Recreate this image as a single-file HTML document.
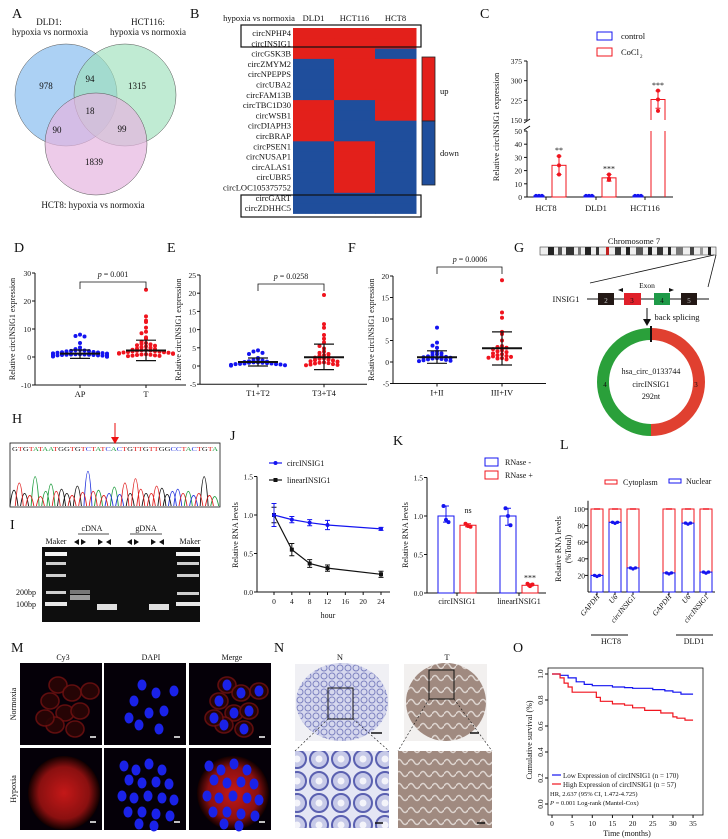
<!DOCTYPE html>
<html><head><meta charset="utf-8">
<style>
html,body{margin:0;padding:0;background:#fff;}
svg{display:block;font-family:"Liberation Serif",serif;}
text{fill:#111;}
</style></head>
<body>
<svg id="fig" width="728" height="839" viewBox="0 0 728 839" xmlns="http://www.w3.org/2000/svg">
<defs>
<radialGradient id="cellred2" cx="50%" cy="50%" r="50%"><stop offset="0" stop-color="#c41818"/><stop offset="0.7" stop-color="#8a1010"/><stop offset="1" stop-color="#100000"/></radialGradient>
<pattern id="glandN" width="8" height="8" patternUnits="userSpaceOnUse"><rect width="8" height="8" fill="#d6d8ee"/><circle cx="4" cy="4" r="3" fill="none" stroke="#7d82c0" stroke-width="1"/></pattern>
<pattern id="glandNbig" width="22" height="22" patternUnits="userSpaceOnUse"><rect width="22" height="22" fill="#e4e6f4"/><circle cx="11" cy="11" r="9" fill="#c7cae8" stroke="#5a60b0" stroke-width="2"/><circle cx="11" cy="11" r="3.5" fill="#f4f4fa"/></pattern>
<pattern id="tumT" width="12" height="12" patternUnits="userSpaceOnUse"><rect width="12" height="12" fill="#a08a80"/><path d="M0 6 Q3 1 6 6 T12 6" stroke="#ddd4cf" stroke-width="1.5" fill="none"/></pattern>
</defs>

<g font-size="9">
<text x="12" y="18" font-size="14">A</text>
<text x="49" y="25" text-anchor="middle">DLD1:</text>
<text x="50" y="35" text-anchor="middle">hypoxia vs normoxia</text>
<text x="148" y="25" text-anchor="middle">HCT116:</text>
<text x="148" y="35" text-anchor="middle">hypoxia vs normoxia</text>
<circle cx="66" cy="95" r="51" fill="#7fb8ee" fill-opacity="0.65" stroke="#555" stroke-width="0.5"/>
<circle cx="125" cy="95" r="51" fill="#9ee0bb" fill-opacity="0.65" stroke="#555" stroke-width="0.5"/>
<circle cx="96" cy="144" r="51" fill="#e6b5e0" fill-opacity="0.7" stroke="#555" stroke-width="0.5"/>
<text x="46" y="89" text-anchor="middle">978</text>
<text x="90" y="82" text-anchor="middle">94</text>
<text x="137" y="89" text-anchor="middle">1315</text>
<text x="90" y="114" text-anchor="middle">18</text>
<text x="57" y="133" text-anchor="middle">90</text>
<text x="122" y="132" text-anchor="middle">99</text>
<text x="94" y="165" text-anchor="middle">1839</text>
<text x="93" y="208" text-anchor="middle">HCT8: hypoxia vs normoxia</text>
</g>

<g id="panelB" font-size="8.5">
<text x="190" y="18" font-size="14">B</text>
<text x="259" y="21" text-anchor="middle">hypoxia vs normoxia</text>
</g>

<g id="panelC" font-size="8.5">
<text x="480" y="18" font-size="14">C</text>
</g>

<g id="panelD" font-size="8.5"><text x="14" y="252" font-size="14">D</text></g>
<g id="panelE" font-size="8.5"><text x="167" y="252" font-size="14">E</text></g>
<g id="panelF" font-size="8.5"><text x="348" y="252" font-size="14">F</text></g>

<g font-size="8.5">
<text x="514" y="252" font-size="14">G</text>
<text x="634" y="244" text-anchor="middle">Chromosome 7</text>
<g>
<rect x="540" y="247" width="176" height="8" fill="#eee" stroke="#444" stroke-width="0.6"/>
<rect x="548" y="247" width="6" height="8" fill="#222"/><rect x="558" y="247" width="4" height="8" fill="#555"/><rect x="566" y="247" width="8" height="8" fill="#333"/><rect x="578" y="247" width="3" height="8" fill="#777"/><rect x="585" y="247" width="6" height="8" fill="#222"/><rect x="596" y="247" width="3" height="8" fill="#333"/>
<rect x="606" y="247" width="3" height="8" fill="#c02020"/>
<rect x="615" y="247" width="6" height="8" fill="#333"/><rect x="626" y="247" width="4" height="8" fill="#222"/><rect x="636" y="247" width="7" height="8" fill="#555"/><rect x="648" y="247" width="4" height="8" fill="#222"/><rect x="657" y="247" width="6" height="8" fill="#333"/><rect x="668" y="247" width="3" height="8" fill="#222"/><rect x="676" y="247" width="7" height="8" fill="#777"/><rect x="690" y="247" width="4" height="8" fill="#444"/><rect x="700" y="247" width="3" height="8" fill="#999"/><rect x="708" y="247" width="3" height="8" fill="#222"/>
</g>
<line x1="714" y1="255" x2="590" y2="283" stroke="#111" stroke-width="0.8"/>
<line x1="716" y1="255" x2="708" y2="287" stroke="#111" stroke-width="0.8"/>
<text x="566" y="302" text-anchor="middle">INSIG1</text>
<line x1="587" y1="299" x2="709" y2="299" stroke="#111" stroke-width="1"/>
<rect x="598" y="293" width="16" height="12" fill="#231815"/>
<rect x="624" y="293" width="17" height="12" fill="#e0202a"/>
<rect x="654" y="293" width="16" height="12" fill="#1f9a48"/>
<rect x="681" y="293" width="16" height="12" fill="#231815"/>
<text x="606" y="303" font-size="7" text-anchor="middle" style="fill:#ccc">2</text>
<text x="632" y="303" font-size="7" text-anchor="middle">3</text>
<text x="662" y="303" font-size="7" text-anchor="middle">4</text>
<text x="689" y="303" font-size="7" text-anchor="middle" style="fill:#ccc">5</text>
<text x="647" y="288" text-anchor="middle" font-size="7.5">Exon</text>
<path d="M623 288 L618 290 L623 292 Z" fill="#111"/>
<path d="M669 288 L674 290 L669 292 Z" fill="#111"/>
<line x1="647" y1="308" x2="647" y2="321" stroke="#111" stroke-width="1"/>
<path d="M643 319 L647 326 L651 319 Z" fill="#111"/>
<text x="677" y="320" text-anchor="middle">back splicing</text>
<path d="M651 334 A48 48 0 0 1 651 430" fill="none" stroke="#e04030" stroke-width="12"/>
<path d="M651 430 A48 48 0 0 1 651 334" fill="none" stroke="#2aa03a" stroke-width="12"/>
<line x1="651" y1="326" x2="651" y2="342" stroke="#111" stroke-width="2"/>
<text x="651" y="374" text-anchor="middle" font-size="8">hsa_circ_0133744</text>
<text x="651" y="387" text-anchor="middle" font-size="8">circINSIG1</text>
<text x="651" y="399" text-anchor="middle" font-size="8">292nt</text>
<text x="605" y="387" text-anchor="middle" font-size="7">4</text>
<text x="696" y="387" text-anchor="middle" font-size="7">3</text>
</g>

<g id="panelH">
<text x="12" y="423" font-size="14">H</text>
<rect x="10" y="443" width="210" height="64" fill="#fff" stroke="#111" stroke-width="0.8"/>
<line x1="115" y1="423" x2="115" y2="440" stroke="#e33" stroke-width="1.2"/>
<path d="M111 437 L115 444 L119 437 Z" fill="#e11"/>
<text id="seqtext" x="12" y="451" font-size="6" textLength="206" lengthAdjust="spacingAndGlyphs"></text>
</g>

<g font-size="8">
<text x="10" y="529" font-size="14">I</text>
<text x="92" y="531" text-anchor="middle">cDNA</text>
<line x1="78" y1="534" x2="109" y2="534" stroke="#111" stroke-width="0.7"/>
<text x="146" y="531" text-anchor="middle">gDNA</text>
<line x1="130" y1="534" x2="162" y2="534" stroke="#111" stroke-width="0.7"/>
<text x="56" y="544" text-anchor="middle">Maker</text>
<text x="190" y="544" text-anchor="middle">Maker</text>
<g fill="#111">
<path d="M74 542 l5 -3 v6z"/><path d="M86 542 l-5 -3 v6z"/><path d="M103 542 l-5 -3 v6z"/><path d="M106 542 l5 -3 v6z"/>
<path d="M127 542 l5 -3 v6z"/><path d="M139 542 l-5 -3 v6z"/><path d="M156 542 l-5 -3 v6z"/><path d="M159 542 l5 -3 v6z"/>
</g>
<rect x="42" y="547" width="158" height="75" fill="#0e0e0e"/>
<g fill="#cfcfcf">
<rect x="45" y="552" width="22" height="4" fill="#f4f4f4"/><rect x="46" y="562" width="20" height="3"/><rect x="46" y="574" width="20" height="3"/><rect x="46" y="591" width="20" height="3"/><rect x="45" y="602" width="22" height="4" fill="#e8e8e8"/>
</g>
<g fill="#cfcfcf">
<rect x="176" y="552" width="24" height="4" fill="#f4f4f4"/><rect x="177" y="562" width="22" height="3"/><rect x="177" y="574" width="22" height="3"/><rect x="177" y="592" width="22" height="3"/><rect x="176" y="602" width="24" height="4" fill="#e8e8e8"/>
</g>
<rect x="70" y="590" width="20" height="4" fill="#777"/>
<rect x="70" y="595" width="20" height="5" fill="#9a9a9a"/>
<rect x="97" y="604" width="20" height="6" fill="#e0e0e0"/>
<rect x="149" y="604" width="20" height="6" fill="#e0e0e0"/>
<text x="26" y="595" text-anchor="middle">200bp</text>
<text x="26" y="607" text-anchor="middle">100bp</text>
</g>

<g id="panelJ" font-size="8"><text x="230" y="440" font-size="14">J</text></g>
<g id="panelK" font-size="8"><text x="393" y="445" font-size="14">K</text></g>
<g id="panelL" font-size="8"><text x="560" y="449" font-size="14">L</text></g>

<g font-size="8">
<text x="11" y="652" font-size="14">M</text>
<text x="63" y="660" text-anchor="middle">Cy3</text>
<text x="151" y="660" text-anchor="middle">DAPI</text>
<text x="232" y="660" text-anchor="middle">Merge</text>
<text transform="translate(16,704) rotate(-90)" text-anchor="middle">Normoxia</text>
<text transform="translate(16,789) rotate(-90)" text-anchor="middle">Hypoxia</text>
<g id="micro"></g>
</g>

<g font-size="8.5">
<text x="274" y="652" font-size="14">N</text>
<text x="340" y="660" text-anchor="middle">N</text>
<text x="447" y="660" text-anchor="middle">T</text>
<rect x="295" y="664" width="94" height="77" fill="#f0f0f4"/>
<ellipse cx="342" cy="702" rx="46" ry="39" fill="url(#glandN)"/>
<rect x="404" y="664" width="83" height="77" fill="#f2f0ef"/>
<ellipse cx="446" cy="702" rx="40" ry="39" fill="url(#tumT)"/>
<rect x="328" y="688" width="25" height="31" fill="none" stroke="#111" stroke-width="1"/>
<rect x="429" y="670" width="25" height="29" fill="none" stroke="#111" stroke-width="1"/>
<line x1="371" y1="733" x2="382" y2="733" stroke="#111" stroke-width="1.5"/>
<line x1="470" y1="733" x2="479" y2="733" stroke="#111" stroke-width="1.5"/>
<line x1="328" y1="719" x2="295" y2="751" stroke="#111" stroke-dasharray="2 2" stroke-width="0.6"/>
<line x1="353" y1="719" x2="389" y2="751" stroke="#111" stroke-dasharray="2 2" stroke-width="0.6"/>
<line x1="429" y1="699" x2="398" y2="751" stroke="#111" stroke-dasharray="2 2" stroke-width="0.6"/>
<line x1="454" y1="699" x2="492" y2="751" stroke="#111" stroke-dasharray="2 2" stroke-width="0.6"/>
<rect x="295" y="751" width="94" height="77" fill="url(#glandNbig)"/>
<rect x="398" y="751" width="94" height="77" fill="url(#tumT)"/>
<line x1="375" y1="823" x2="383" y2="823" stroke="#111" stroke-width="1.5"/>
<line x1="477" y1="823" x2="485" y2="823" stroke="#111" stroke-width="1.5"/>
</g>

<g id="panelO" font-size="8"><text x="513" y="652" font-size="14">O</text></g>
</svg>

<script>
const heatRows = ["circNPHP4","circINSIG1","circGSK3B","circZMYM2","circNPEPPS","circUBA2","circFAM13B","circTBC1D30","circWSB1","circDIAPH3","circBRAP","circPSEN1","circNUSAP1","circALAS1","circUBR5","circLOC105375752","circGART","circZDHHC5"];
const heatCols = ["DLD1","HCT116","HCT8"];
const heatDLD1   = [1,1,1,0,0,0,0,1,1,1,1,0,0,0,0,0,0,0];
const heatHCT116 = [1,1,1,1,1,1,1,0,0,0,0,1,1,1,1,1,0,0];
const heatHCT8   = [1,1,0,1,1,1,1,1,1,0,0,0,0,0,0,0,0,0];

const cGroups = ["HCT8","DLD1","HCT116"];
const cControl = [1,1,1];
const cCoCl2 = [24,14.5,228];
const cCoCl2Pts = [[31,24,17],[17,14,13],[262,228,185]];
const cCoCl2Err = [7,2.5,33];
const cStars = ["**","***","***"];
const cTicksLow = [0,10,20,30,40,50];
const cTicksHigh = [150,225,300,375];

const dCats = ["AP","T"];
const dAP = [8,7.5,7.3,5,3.4,2.8,2.5,2.4,2.3,2.2,2.1,2,1.8,1.7,1.6,1.5,1.4,1.3,1.2,1.2,1.1,1,1,0.9,0.9,0.8,0.8,0.7,0.7,0.6,0.6,0.5,0.5,0.4,0.4,0.3,0.3,0.2,0.2,0.1];
const dT = [24,14.5,13,12.5,10.5,9,8.5,7,6.5,5.5,5,4.7,4.5,4.2,4,3.8,3.5,3.3,3,2.8,2.6,2.5,2.4,2.3,2.2,2.1,2,1.9,1.8,1.7,1.6,1.5,1.4,1.3,1.2,1.1,1,0.9,0.8,0.7,0.6,0.5,0.4,0.3];
const dMean = [1.2,2.3], dLo = [-0.5,-1.3], dHi = [2.5,6];
const dTicks = [-10,0,10,20,30];

const eCats = ["T1+T2","T3+T4"];
const eT12 = [4.3,4,3.6,3.3,2.2,1.8,1.6,1.5,1.3,1.2,1.1,1,1,0.9,0.9,0.8,0.7,0.7,0.6,0.5,0.5,0.4,0.3,0.2,0.1];
const eT34 = [19.5,11.5,10.5,8.5,7.5,6.5,5.5,4.8,4,3.6,3.3,3,2.8,2.5,2.3,2.1,2,1.8,1.6,1.5,1.3,1.2,1,0.9,0.8,0.7,0.5,0.4,0.3,0.2];
const eMean = [1.1,2.4], eLo = [0,-1], eHi = [2.2,6];
const eTicks = [-5,0,5,10,15,20,25];

const fCats = ["I+II","III+IV"];
const fI = [8,4.5,3.8,3.3,2.4,2.2,2,1.8,1.6,1.4,1.3,1.2,1.1,1,0.9,0.8,0.7,0.6,0.5,0.4,0.3,0.2];
const fIII = [19,11.5,10.3,7,6.5,5,3.7,3.5,3.3,3,2.7,2.5,2.3,2,1.8,1.6,1.4,1.3,1.2,1,0.9,0.8,0.6];
const fMean = [1.1,3.2], fLo = [-0.3,-0.7], fHi = [2.6,7];
const fTicks = [-5,0,5,10,15,20];

const jHours = [0,4,8,12,24];
const jCirc = [1.0,0.94,0.9,0.87,0.82];
const jCircErr = [0.15,0.04,0.04,0.06,0.02];
const jLinear = [1.0,0.55,0.37,0.31,0.23];
const jLinErr = [0.1,0.08,0.05,0.04,0.04];
const jXTicks = [0,4,8,12,16,20,24];
const jYTicks = [0.0,0.5,1.0,1.5];

const kCats = ["circINSIG1","linearINSIG1"];
const kMinus = [1.0,1.0];
const kPlus = [0.88,0.1];
const kMinusPts = [[1.13,0.95,0.92],[1.1,1.0,0.88]];
const kPlusPts = [[0.9,0.87,0.86],[0.12,0.09,0.11]];
const kYTicks = [0.0,0.5,1.0,1.5];

const lCats = ["GAPDH","U6","circINSIG1","GAPDH","U6","circINSIG1"];
const lNuclear = [20,84,29,23,83,24];
const lCyto = [100,100,100,100,100,100];
const lYTicks = [20,40,60,80,100];

const oTime = [0,5,10,15,20,25,30,35];
const oLowT = [0,1,2,4,6,8,10,15,18,20,25,28,30,32,35];
const oLowS = [1,1,0.99,0.97,0.94,0.92,0.91,0.9,0.895,0.89,0.88,0.87,0.86,0.845,0.845];
const oHighT = [0,2,3,4,5,10,11,12,15,18,20,23,27,30,31,33,35];
const oHighS = [1,0.97,0.93,0.9,0.86,0.86,0.82,0.79,0.77,0.76,0.74,0.72,0.7,0.67,0.66,0.645,0.645];
const oYTicks = [0.0,0.2,0.4,0.6,0.8,1.0];

const NS = "http://www.w3.org/2000/svg";
function mk(parent, tag, attrs, txt){
  const e = document.createElementNS(NS, tag);
  for (const k in attrs) e.setAttribute(k, attrs[k]);
  if (txt !== undefined) e.textContent = txt;
  parent.appendChild(e);
  return e;
}
const RED = "#f0141e", BLUE = "#1414f0";

(function(){
  const g = document.getElementById("panelB");
  const x0 = 293, cw = 41, y0 = 28, rh = 10.3;
  const xB = i => x0 + i*cw;
  const yB = i => y0 + i*rh;
  const cols = [heatDLD1, heatHCT116, heatHCT8];
  heatCols.forEach((c,j)=>{
    const t = mk(g,"text",{x:xB(j)+cw/2, y:21, "text-anchor":"middle"}, c);
    
    
  });
  heatRows.forEach((r,i)=>{
    const t = mk(g,"text",{x:291, y:yB(i)+8, "text-anchor":"end"}, r);
    
    
    cols.forEach((col,j)=>{
      const c = mk(g,"rect",{x:xB(j), y:yB(i), width:cw+0.5, height:rh+0.5, fill: col[i] ? "#e3201b" : "#1f4e9c"});
      
      
    });
  });
  const b1 = mk(g,"rect",{x:241, y:25, width:180, height:22, fill:"none", stroke:"#111", "stroke-width":1.2});
  
  
  const b2 = mk(g,"rect",{x:241, y:195, width:180, height:22, fill:"none", stroke:"#111", "stroke-width":1.2});
  
  
  const lu = mk(g,"rect",{x:422, y:57, width:13, height:64, fill:"#e3201b", stroke:"#222","stroke-width":0.8});
  
  
  const ld = mk(g,"rect",{x:422, y:121, width:13, height:64, fill:"#1f4e9c", stroke:"#222","stroke-width":0.8});
  
  
  const tu = mk(g,"text",{x:440, y:94}, "up");
  
  
  const td = mk(g,"text",{x:440, y:156}, "down");
  
  
})();

(function(){
  const g = document.getElementById("panelC");
  const yC = v => v <= 50 ? 197 - v*(66/50) : 120 - (v-150)*(59/225);
  const gx = [546,596,645];
  mk(g,"line",{x1:527,y1:131,x2:527,y2:197,stroke:"#111"});
  mk(g,"line",{x1:527,y1:61,x2:527,y2:120,stroke:"#111"});
  mk(g,"line",{x1:524,y1:123,x2:530,y2:119,stroke:"#111"});
  mk(g,"line",{x1:524,y1:130,x2:530,y2:126,stroke:"#111"});
  mk(g,"line",{x1:527,y1:197,x2:673,y2:197,stroke:"#111"});
  cTicksLow.concat(cTicksHigh).forEach(v=>{
    mk(g,"line",{x1:524,y1:yC(v),x2:527,y2:yC(v),stroke:"#111"});
    const t = mk(g,"text",{x:522,y:yC(v)+3,"text-anchor":"end","font-size":7.5}, v);
    
    
  });
  const yl = mk(g,"text",{transform:"translate(499,127) rotate(-90)","text-anchor":"middle"}, "Relative circINSIG1 expression");
  
  
  cGroups.forEach((n,i)=>{
    const t = mk(g,"text",{x:gx[i],y:211,"text-anchor":"middle"}, n);
    
    
    mk(g,"line",{x1:gx[i],y1:197,x2:gx[i],y2:200,stroke:"#111"});
    const cx = gx[i]-7;
    const cb = mk(g,"rect",{x:cx-5,y:yC(cControl[i]),width:10,height:197-yC(cControl[i]),fill:"none",stroke:BLUE,"stroke-width":1});
    
    
    [-3,0,3].forEach(d=>mk(g,"circle",{cx:cx+d,cy:yC(cControl[i]),r:1.8,fill:BLUE}));
    const bx = gx[i]+13;
    const v = cCoCl2[i];
    const top = yC(v);
    if (v > 50) {
      const rb = mk(g,"path",{d:`M${bx-7} 197 V131 M${bx+7} 197 V131 M${bx-7} 120 V${top} H${bx+7} V120`,fill:"none",stroke:RED,"stroke-width":1});
      
      
    } else {
      const rb = mk(g,"rect",{x:bx-7,y:top,width:14,height:197-top,fill:"none",stroke:RED,"stroke-width":1});
      
      
    }
    const e1 = yC(v + cCoCl2Err[i]), e2 = yC(v - cCoCl2Err[i]);
    mk(g,"path",{d:`M${bx} ${e1} V${e2} M${bx-2.5} ${e1} H${bx+2.5} M${bx-2.5} ${e2} H${bx+2.5}`,stroke:RED,fill:"none"});
    cCoCl2Pts[i].forEach(p=>mk(g,"circle",{cx:bx,cy:yC(p),r:2,fill:RED}));
    const st = mk(g,"text",{x:bx,y:e1-3,"text-anchor":"middle","font-size":8}, cStars[i]);
    
    
  });
  const l1 = mk(g,"rect",{x:597,y:32,width:15,height:8,fill:"none",stroke:BLUE,"stroke-width":1});
  
  
  const l1t = mk(g,"text",{x:621,y:39}, "control");
  
  
  const l2 = mk(g,"rect",{x:597,y:48,width:15,height:8,fill:"none",stroke:RED,"stroke-width":1});
  
  
  const l2t = mk(g,"text",{x:621,y:55}, "CoCl");
  
  
  mk(g,"text",{x:640,y:58,"font-size":5},"2");
})();

function scatterPanel(id, axX, axRight, y0v, scale, ticks, cats, catX, groups, means, los, his, pText, pX, brY, yTitleX){
  const g = document.getElementById(id);
  const yS = v => y0v - v*scale;
  const top = yS(ticks[ticks.length-1]), bot = yS(ticks[0]);
  mk(g,"line",{x1:axX,y1:top,x2:axX,y2:bot,stroke:"#111"});
  mk(g,"line",{x1:axX,y1:bot,x2:axRight,y2:bot,stroke:"#111"});
  ticks.forEach(v=>{
    mk(g,"line",{x1:axX-3,y1:yS(v),x2:axX,y2:yS(v),stroke:"#111"});
    const t = mk(g,"text",{x:axX-4,y:yS(v)+3,"text-anchor":"end","font-size":7.5}, v);
    
    
  });
  const yt = mk(g,"text",{transform:`translate(${yTitleX},${(top+bot)/2}) rotate(-90)`,"text-anchor":"middle","font-size":8}, "Relative circINSIG1 expression");
  
  
  cats.forEach((c,i)=>{
    mk(g,"line",{x1:catX[i],y1:bot,x2:catX[i],y2:bot+3,stroke:"#111"});
    const t = mk(g,"text",{x:catX[i],y:bot+12,"text-anchor":"middle"}, c);
    
    
    const col = i===0 ? BLUE : RED;
    const vals = groups[i];
    const counts = {};
    vals.forEach((v,k)=>{
      const key = Math.round(yS(v)/4);
      counts[key] = (counts[key]||0)+1;
      const n = counts[key]-1;
      const off = (n%2===0?1:-1)*Math.ceil(n/2)*4.5;
      const p = mk(g,"circle",{cx:catX[i]+Math.max(-27,Math.min(27,off)),cy:yS(v),r:2,fill:col});
      
      
    });
    const m = mk(g,"line",{x1:catX[i]-20,y1:yS(means[i]),x2:catX[i]+20,y2:yS(means[i]),stroke:"#111","stroke-width":2});
    
    
    mk(g,"path",{d:`M${catX[i]} ${yS(his[i])} V${yS(los[i])} M${catX[i]-10} ${yS(his[i])} H${catX[i]+10} M${catX[i]-10} ${yS(los[i])} H${catX[i]+10}`,stroke:"#111",fill:"none","stroke-width":1.2});
  });
  mk(g,"path",{d:`M${catX[0]} ${brY+7} V${brY} H${catX[1]} V${brY+7}`,stroke:"#111",fill:"none","stroke-width":0.8});
  const pt = mk(g,"text",{x:pX,y:brY-5,"text-anchor":"middle","font-size":8});
  
  
  mk(pt,"tspan",{"font-style":"italic"},"p");
  mk(pt,"tspan",{}," = "+pText);
}
scatterPanel("panelD",35,186,357,2.8,dTicks,dCats,[80,146],[dAP,dT],dMean,dLo,dHi,"0.001",113,282,15);
scatterPanel("panelE",200,367,366,3.64,eTicks,eCats,[258,324],[eT12,eT34],eMean,eLo,eHi,"0.0258",291,284,181);
scatterPanel("panelF",393,546,362,4.3,fTicks,fCats,[437,502],[fI,fIII],fMean,fLo,fHi,"0.0006",470,267,374);

(function(){
  const seq = "GTGTATAATGGTGTCTATCACTGTTGTTGGCCTACTGTA";
  const cmap = {A:"#1a9a3a",C:"#2233dd",G:"#111",T:"#e02020"};
  const st = document.getElementById("seqtext");
  for (const ch of seq) mk(st,"tspan",{style:"fill:"+cmap[ch]}, ch);
  const g = document.getElementById("panelH");
  const peakH = [15,22,12,10,28,9,14,21,14,16,12,10,19,13,33,14,15,10,12,18,11,22,12,26,16,12,12,19,17,11,14,16,12,14,10,12,28,10,9];
  const step = 206/seq.length;
  const d = {};
  for (const ch in cmap) d[ch] = "";
  [...seq].forEach((ch,i)=>{
    const cx = 14 + i*step, h = peakH[i];
    d[ch] += `M${cx-4} 506 Q${cx} ${506-h*2.1} ${cx+4} 506 `;
  });
  for (const ch in d){
    const p = mk(g,"path",{d:d[ch],fill:"none",stroke:cmap[ch],"stroke-width":0.9});
    
    
  }
})();

(function(){
  const g = document.getElementById("panelJ");
  const xJ = h => 274 + h*(107/24);
  const yJ = v => 592 - v*77;
  mk(g,"line",{x1:257,y1:yJ(1.5),x2:257,y2:yJ(0),stroke:"#111"});
  mk(g,"line",{x1:257,y1:yJ(0),x2:390,y2:yJ(0),stroke:"#111"});
  jYTicks.forEach(v=>{
    mk(g,"line",{x1:254,y1:yJ(v),x2:257,y2:yJ(v),stroke:"#111"});
    const t = mk(g,"text",{x:253,y:yJ(v)+3,"text-anchor":"end","font-size":7.5}, v.toFixed(1));
    
    
  });
  jXTicks.forEach(h=>{
    mk(g,"line",{x1:xJ(h),y1:yJ(0),x2:xJ(h),y2:yJ(0)+3,stroke:"#111"});
    const t = mk(g,"text",{x:xJ(h),y:604,"text-anchor":"middle","font-size":7.5}, h);
    
    
  });
  const xt = mk(g,"text",{x:328,y:618,"text-anchor":"middle"}, "hour");
  
  
  const yt = mk(g,"text",{transform:"translate(238,535) rotate(-90)","text-anchor":"middle"}, "Relative RNA levels");
  
  
  [[jLinear,jLinErr,"#111","rect"],[jCirc,jCircErr,BLUE,"circle"]].forEach(([vals,err,col,shape])=>{
    const pts = jHours.map((h,i)=>`${xJ(h)},${yJ(vals[i])}`).join(" ");
    const l = mk(g,"polyline",{points:pts,fill:"none",stroke:col,"stroke-width":1.2});
    
    
    jHours.forEach((h,i)=>{
      const x = xJ(h), y1 = yJ(vals[i]+err[i]), y2 = yJ(vals[i]-err[i]);
      mk(g,"path",{d:`M${x} ${y1} V${y2} M${x-2.5} ${y1} H${x+2.5} M${x-2.5} ${y2} H${x+2.5}`,stroke:col,fill:"none"});
      const m = shape==="circle" ? mk(g,"circle",{cx:x,cy:yJ(vals[i]),r:2,fill:col}) : mk(g,"rect",{x:x-2,y:yJ(vals[i])-2,width:4,height:4,fill:col});
      
      
    });
  });
  mk(g,"line",{x1:269,y1:463,x2:282,y2:463,stroke:BLUE,"stroke-width":1.2});
  mk(g,"circle",{cx:275.5,cy:463,r:2,fill:BLUE});
  const l1 = mk(g,"text",{x:287,y:466}, "circINSIG1");
  
  
  mk(g,"line",{x1:269,y1:480,x2:282,y2:480,stroke:"#111","stroke-width":1.2});
  mk(g,"rect",{x:273.5,y:478,width:4,height:4,fill:"#111"});
  const l2 = mk(g,"text",{x:287,y:483}, "linearINSIG1");
  
  
})();

(function(){
  const g = document.getElementById("panelK");
  const yK = v => 593 - v*77;
  const catX = [457,519];
  mk(g,"line",{x1:427,y1:yK(1.5),x2:427,y2:yK(0),stroke:"#111"});
  mk(g,"line",{x1:427,y1:yK(0),x2:546,y2:yK(0),stroke:"#111"});
  kYTicks.forEach(v=>{
    mk(g,"line",{x1:424,y1:yK(v),x2:427,y2:yK(v),stroke:"#111"});
    const t = mk(g,"text",{x:423,y:yK(v)+3,"text-anchor":"end","font-size":7.5}, v.toFixed(1));
    
    
  });
  const yt = mk(g,"text",{transform:"translate(408,535) rotate(-90)","text-anchor":"middle"}, "Relative RNA levels");
  
  
  kCats.forEach((c,i)=>{
    mk(g,"line",{x1:catX[i],y1:yK(0),x2:catX[i],y2:yK(0)+3,stroke:"#111"});
    const t = mk(g,"text",{x:catX[i],y:604,"text-anchor":"middle"}, c);
    
    
    [[kMinus[i],kMinusPts[i],BLUE,-11],[kPlus[i],kPlusPts[i],RED,11]].forEach(([v,pts,col,dx])=>{
      const x = catX[i]+dx;
      const b = mk(g,"rect",{x:x-8,y:yK(v),width:16,height:yK(0)-yK(v),fill:"none",stroke:col,"stroke-width":1});
      
      
      const mx = Math.max(...pts), mn = Math.min(...pts);
      mk(g,"path",{d:`M${x} ${yK(mx)} V${yK(mn)} M${x-3} ${yK(mx)} H${x+3} M${x-3} ${yK(mn)} H${x+3}`,stroke:col,fill:"none"});
      pts.forEach((p,k)=>mk(g,"circle",{cx:x+(k-1)*2.5,cy:yK(p),r:2,fill:col}));
    });
  });
  const ns = mk(g,"text",{x:468,y:yK(kPlus[0])-12,"text-anchor":"middle"}, "ns");
  
  
  const st = mk(g,"text",{x:530,y:yK(kPlus[1])-5,"text-anchor":"middle"}, "***");
  
  
  const s1 = mk(g,"rect",{x:485,y:458,width:13,height:8,fill:"none",stroke:BLUE,"stroke-width":1});
  
  
  const t1 = mk(g,"text",{x:505,y:465}, "RNase -");
  
  
  const s2 = mk(g,"rect",{x:485,y:471,width:13,height:8,fill:"none",stroke:RED,"stroke-width":1});
  
  
  const t2 = mk(g,"text",{x:505,y:478}, "RNase +");
  
  
})();

(function(){
  const g = document.getElementById("panelL");
  const yL = v => 592 - v*0.83;
  const barX = [597,615,633,669,688,706];
  mk(g,"line",{x1:588,y1:yL(110),x2:588,y2:yL(0),stroke:"#111"});
  mk(g,"line",{x1:588,y1:yL(0),x2:715,y2:yL(0),stroke:"#111"});
  lYTicks.forEach(v=>{
    mk(g,"line",{x1:585,y1:yL(v),x2:588,y2:yL(v),stroke:"#111"});
    const t = mk(g,"text",{x:585,y:yL(v)+3,"text-anchor":"end","font-size":7.5}, v);
    
    
  });
  const yt1 = mk(g,"text",{transform:"translate(561,549) rotate(-90)","text-anchor":"middle"}, "Relative RNA levels");
  
  
  mk(g,"text",{transform:"translate(571,549) rotate(-90)","text-anchor":"middle"}, "(%Total)");
  lCats.forEach((c,i)=>{
    const x = barX[i];
    mk(g,"line",{x1:x,y1:yL(0),x2:x,y2:yL(0)+3,stroke:"#111"});
    const rb = mk(g,"rect",{x:x-6,y:yL(lCyto[i]),width:12,height:yL(lNuclear[i])-yL(lCyto[i]),fill:"none",stroke:RED,"stroke-width":1});
    
    
    const bb = mk(g,"rect",{x:x-6,y:yL(lNuclear[i]),width:12,height:yL(0)-yL(lNuclear[i]),fill:"none",stroke:BLUE,"stroke-width":1});
    
    
    mk(g,"path",{d:`M${x-3} ${yL(lCyto[i])} H${x+3}`,stroke:RED,"stroke-width":1.5});
    [-2.5,0,2.5].forEach(d=>mk(g,"circle",{cx:x+d,cy:yL(lNuclear[i])+(d===0?1:0),r:1.7,fill:BLUE}));
    const t = mk(g,"text",{transform:`translate(${x+3},${yL(0)+5}) rotate(-50)`,"text-anchor":"end","font-style":"italic","font-size":7.5}, c);
    
    
  });
  mk(g,"line",{x1:591,y1:635,x2:628,y2:635,stroke:"#111","stroke-width":1});
  const h1 = mk(g,"text",{x:611,y:644,"text-anchor":"middle"}, "HCT8");
  
  
  mk(g,"line",{x1:676,y1:635,x2:713,y2:635,stroke:"#111","stroke-width":1});
  const h2 = mk(g,"text",{x:694,y:644,"text-anchor":"middle"}, "DLD1");
  
  
  const s1 = mk(g,"rect",{x:605,y:480,width:12,height:4,fill:"none",stroke:RED,"stroke-width":1});
  
  
  const t1 = mk(g,"text",{x:623,y:485}, "Cytoplasm");
  
  
  const s2 = mk(g,"rect",{x:669,y:479,width:12,height:4,fill:"none",stroke:BLUE,"stroke-width":1});
  
  
  const t2 = mk(g,"text",{x:686,y:484}, "Nuclear");
  
  
})();

(function(){
  const g = document.getElementById("micro");
  const colsX = [20,104,189], rowsY = [663,748], w = 82, h = 82;
  const nucN = [[38,22],[52,30],[30,38],[45,50],[60,48],[35,62],[55,66],[70,28],[25,55]];
  const nucH = [[20,18],[32,22],[45,16],[58,22],[25,32],[38,35],[52,34],[65,36],[18,48],[30,50],[44,48],[58,50],[70,52],[24,64],[38,64],[52,66],[66,68],[35,76],[50,78]];
  rowsY.forEach((y,ri)=>{
    colsX.forEach((x,ci)=>{
      const bg = mk(g,"rect",{x:x,y:y,width:w,height:h,fill:"#050008"});
      
      
      const nuc = ri===0 ? nucN : nucH;
      if (ci===0 || ci===2){
        if (ri===0) nuc.forEach(([a,b])=>mk(g,"ellipse",{cx:x+a,cy:y+b,rx:9,ry:8,fill:"#2a0505",stroke:"#6a1010","stroke-width":1.6,opacity:0.9}));
        else mk(g,"ellipse",{cx:x+44,cy:y+45,rx:36,ry:37,fill:"url(#cellred2)"});
      }
      if (ci===1 || ci===2){
        nuc.forEach(([a,b])=>mk(g,"ellipse",{cx:x+a,cy:y+b,rx:4.5,ry:5.5,fill:"#1a22e8"}));
      }
      mk(g,"line",{x1:x+w-12,y1:y+h-8,x2:x+w-6,y2:y+h-8,stroke:"#fff","stroke-width":1.5});
    });
  });
})();

(function(){
  const g = document.getElementById("panelO");
  const xO = t => 552 + t*4.03;
  const yO = s => 804 - s*130;
  const fr = mk(g,"rect",{x:548,y:668,width:155,height:147,fill:"none",stroke:"#111","stroke-width":0.8});
  
  
  oYTicks.forEach(v=>{
    mk(g,"line",{x1:545,y1:yO(v),x2:548,y2:yO(v),stroke:"#111"});
    const t = mk(g,"text",{transform:`translate(543,${yO(v)}) rotate(-90)`,"text-anchor":"middle","font-size":7.5}, v.toFixed(1));
    
    
  });
  oTime.forEach(v=>{
    mk(g,"line",{x1:xO(v),y1:815,x2:xO(v),y2:818,stroke:"#111"});
    const t = mk(g,"text",{x:xO(v),y:826,"text-anchor":"middle","font-size":7.5}, v);
    
    
  });
  const xt = mk(g,"text",{x:627,y:836,"text-anchor":"middle"}, "Time (months)");
  
  
  const yt = mk(g,"text",{transform:"translate(532,740) rotate(-90)","text-anchor":"middle"}, "Cumulative  survival (%)");
  
  
  function step(T,S){
    let d = `M${xO(T[0])} ${yO(S[0])}`;
    for (let i=1;i<T.length;i++) d += ` H${xO(T[i])} V${yO(S[i])}`;
    return d;
  }
  const lo = mk(g,"path",{d:step(oLowT,oLowS),fill:"none",stroke:BLUE,"stroke-width":1.2});
  
  
  const hi = mk(g,"path",{d:step(oHighT,oHighS),fill:"none",stroke:RED,"stroke-width":1.2});
  
  
  mk(g,"line",{x1:552,y1:775,x2:561,y2:775,stroke:BLUE,"stroke-width":1.2});
  const l1 = mk(g,"text",{x:563,y:778,"font-size":7}, "Low Expression of circINSIG1 (n = 170)");
  
  
  mk(g,"line",{x1:552,y1:784,x2:561,y2:784,stroke:RED,"stroke-width":1.2});
  const l2 = mk(g,"text",{x:563,y:787,"font-size":7}, "High Expression of circINSIG1 (n = 57)");
  
  
  const hr = mk(g,"text",{x:550,y:796,"font-size":6.5}, "HR, 2.637 (95% CI, 1.472-4.725)");
  
  
  const pv = mk(g,"text",{x:550,y:805,"font-size":6.5});
  
  
  mk(pv,"tspan",{"font-style":"italic"},"P");
  mk(pv,"tspan",{}," = 0.001 Log-rank (Mantel-Cox)");
})();
</script>
</body></html>
